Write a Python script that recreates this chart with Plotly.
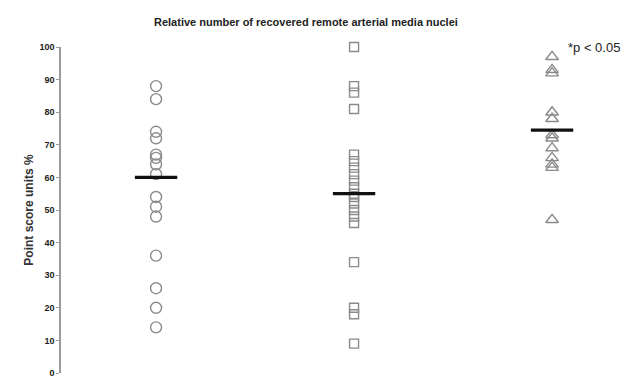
import plotly.graph_objects as go

# Individual point scores (%) per group
group_a = [88, 84, 74, 72, 67, 66, 64, 61, 54, 51, 48, 36, 26, 20, 14]
group_b = [100, 88, 86, 81, 67, 65, 63, 61, 59, 57, 55, 54, 52, 50, 48, 46, 34, 20, 18, 9]
group_c = [97, 93, 92, 80, 78, 73, 72, 69, 66, 64, 63, 47]
group_lines = [60, 55, 74.5]  # horizontal summary bar per group

groups = [group_a, group_b, group_c]
symbols = ["circle-open", "square-open", "triangle-up-open"]
sizes = [11, 9, 11]
y_ticks = [0, 10, 20, 30, 40, 50, 60, 70, 80, 90, 100]

marker_grey = "#8a8a8a"
font_main = "Liberation Sans Narrow, Arial Narrow, Liberation Sans, Arial"

fig = go.Figure()

for i, vals in enumerate(groups):
    fig.add_trace(go.Scatter(
        x=[i] * len(vals), y=vals, mode="markers",
        marker=dict(symbol=symbols[i], size=sizes[i], color=marker_grey,
                    line=dict(width=1.4, color=marker_grey)),
        cliponaxis=False, showlegend=False, hoverinfo="y",
    ))

half = 0.107
for i, v in enumerate(group_lines):
    fig.add_trace(go.Scatter(
        x=[i - half, i + half], y=[v, v], mode="lines",
        line=dict(color="#111111", width=3.2),
        cliponaxis=False, showlegend=False, hoverinfo="skip",
    ))

fig.add_annotation(
    text="<b>Relative number of recovered remote arterial media nuclei</b>",
    xref="paper", yref="paper", x=(306 - 61) / (620 - 61), y=(378 - 22) / 331,
    xanchor="center", yanchor="middle", showarrow=False,
    font=dict(family=font_main, size=11, color="#222222"),
)
fig.add_annotation(
    text="*p < 0.05", xref="paper", yref="paper",
    x=(566 - 61) / (620 - 61), y=(378 - 47) / 331,
    xanchor="left", yanchor="middle", showarrow=False,
    font=dict(family=font_main, size=13, color="#222222"),
)

fig.update_layout(
    width=627, height=384,
    margin=dict(l=61, r=7, t=47, b=6),
    paper_bgcolor="white", plot_bgcolor="white",
    font=dict(family=font_main, color="#222222"),
    xaxis=dict(range=[-0.48, 2.343], showticklabels=False, showline=False,
               showgrid=False, zeroline=False, ticks=""),
    yaxis=dict(range=[0, 100], tickvals=y_ticks,
               ticktext=[f"<b>{t}</b>" for t in y_ticks],
               tickfont=dict(size=9, color="#222222"),
               showline=True, linecolor="#9a9a9a", linewidth=1.5,
               ticks="outside", ticklen=3, tickcolor="#9a9a9a", tickwidth=1,
               showgrid=False, zeroline=False,
               title=dict(text="<b>Point score units %</b>", standoff=3,
                          font=dict(size=12, color="#333333"))),
)

fig.write_html("out.html")
